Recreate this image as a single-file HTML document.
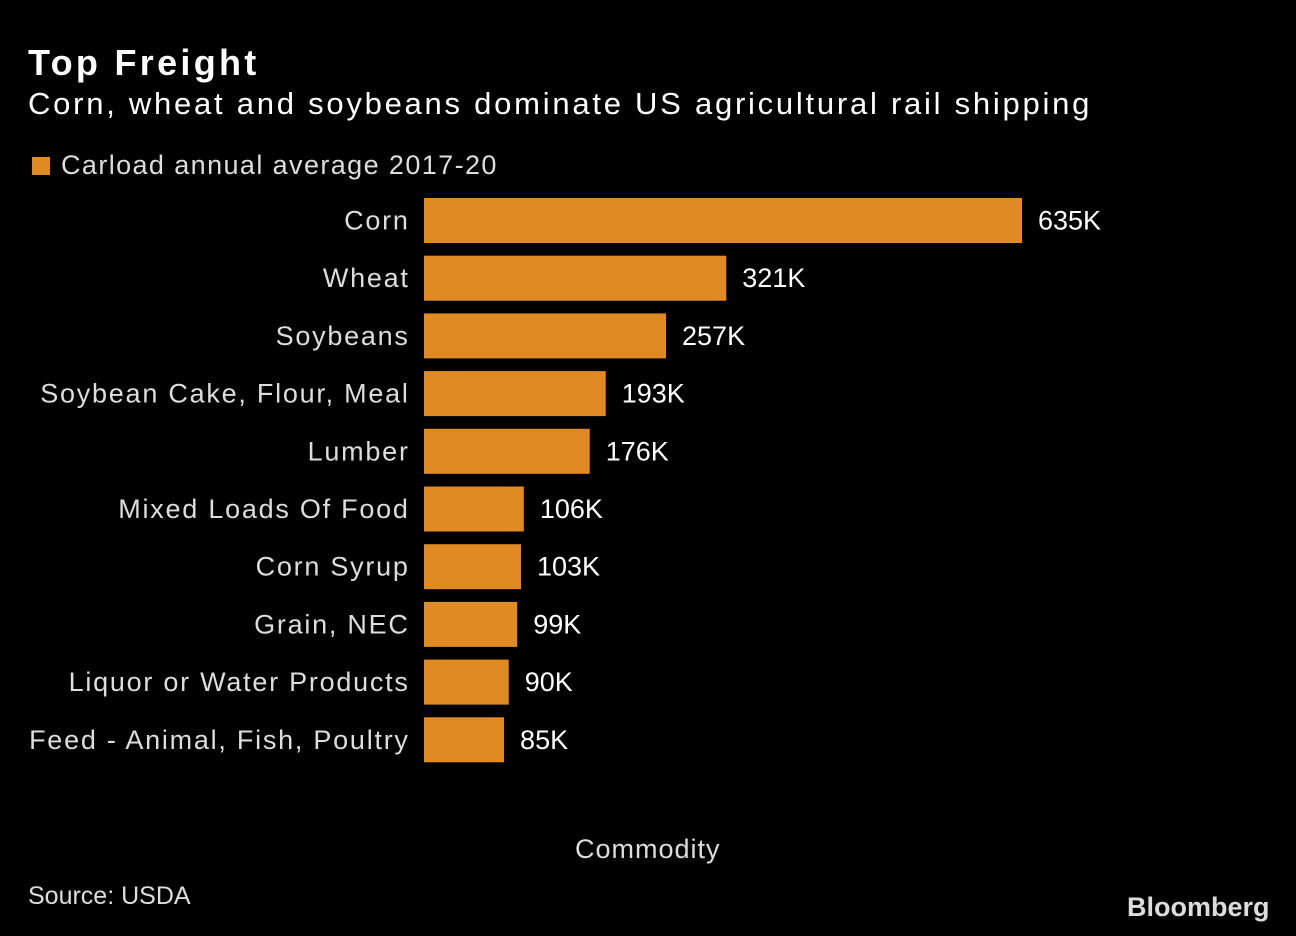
<!DOCTYPE html>
<html><head><meta charset="utf-8">
<style>
html,body{margin:0;padding:0;background:#000;}
body{width:1296px;height:936px;overflow:hidden;position:relative;font-family:"Liberation Sans",sans-serif;color:#fff;}
.t{position:absolute;white-space:nowrap;}
</style></head>
<body>
<div class="t" style="left:28px;top:42px;font-size:36px;font-weight:bold;letter-spacing:3.3px;">Top Freight</div>
<div class="t" style="left:28px;top:86px;font-size:31px;letter-spacing:2.75px;">Corn, wheat and soybeans dominate US agricultural rail shipping</div>
<div class="t" style="left:32px;top:150px;font-size:27px;color:#ddd;letter-spacing:1.4px;"><span style="display:inline-block;width:18px;height:18px;background:#E08A23;margin-right:11px;vertical-align:-1px;"></span>Carload annual average 2017-20</div>
<svg id="chart" width="1296" height="936" style="position:absolute;left:0;top:0;"></svg>
<div class="t" style="left:575px;top:834px;font-size:27px;color:#ddd;letter-spacing:1px;">Commodity</div>
<div class="t" style="left:28px;top:882px;font-size:25px;color:#ddd;">Source: USDA</div>
<div class="t" style="left:1127px;top:892px;font-size:27px;font-weight:bold;color:#ddd;letter-spacing:0px;">Bloomberg</div>
<script>
const categories=["Corn","Wheat","Soybeans","Soybean Cake, Flour, Meal","Lumber","Mixed Loads Of Food","Corn Syrup","Grain, NEC","Liquor or Water Products","Feed - Animal, Fish, Poultry"];
const values=[635,321,257,193,176,106,103,99,90,85];
const valueLabels=["635K","321K","257K","193K","176K","106K","103K","99K","90K","85K"];
const svg=document.getElementById('chart');
const NS='http://www.w3.org/2000/svg';
const x0=424, xScale=v=>v*(598/635);
const yTop=198, pitch=57.7, bh=45;
const y=i=>yTop+i*pitch;
categories.forEach((c,i)=>{
  const r=document.createElementNS(NS,'rect');
  r.setAttribute('x',x0);r.setAttribute('y',y(i));
  r.setAttribute('width',xScale(values[i]));r.setAttribute('height',bh);
  r.setAttribute('fill','#E08A23');
  
  
  svg.appendChild(r);
  const l=document.createElementNS(NS,'text');
  l.setAttribute('x',409.7);l.setAttribute('y',y(i)+bh/2+9);
  l.setAttribute('text-anchor','end');l.setAttribute('fill','#ddd');
  l.setAttribute('font-size','27');l.setAttribute('font-family','Liberation Sans, sans-serif');
  l.setAttribute('letter-spacing','1.75');
  l.textContent=c;
  
  
  svg.appendChild(l);
  const v=document.createElementNS(NS,'text');
  v.setAttribute('x',x0+xScale(values[i])+16);v.setAttribute('y',y(i)+bh/2+9);
  v.setAttribute('fill','#fff');
  v.setAttribute('font-size','27');v.setAttribute('font-family','Liberation Sans, sans-serif');
  v.textContent=valueLabels[i];
  
  
  svg.appendChild(v);
});
</script>
</body></html>
